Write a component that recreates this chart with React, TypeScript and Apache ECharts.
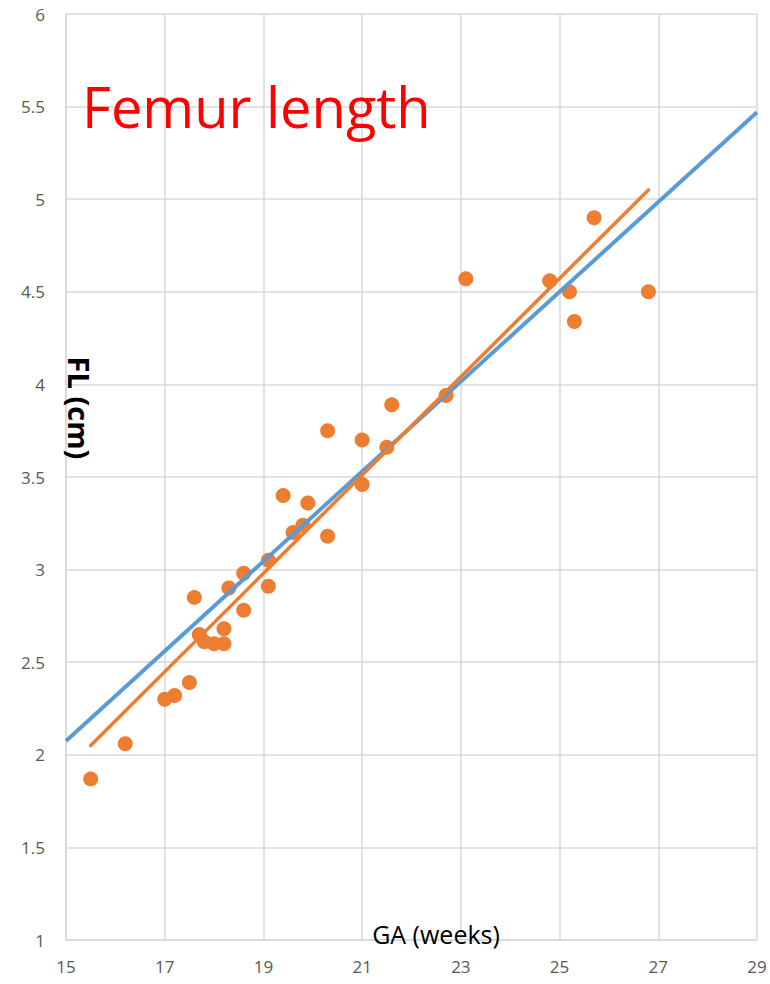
import React, { useEffect, useRef } from "react";
import * as echarts from "echarts";

const gaWeeks = [15.5, 16.2, 17.0, 17.2, 17.5, 17.6, 17.7, 17.8, 18.0, 18.2, 18.2, 18.3, 18.6, 18.6, 19.1, 19.1, 19.4, 19.6, 19.8, 19.9, 20.3, 20.3, 21.0, 21.0, 21.5, 21.6, 22.7, 23.1, 24.8, 25.2, 25.3, 25.7, 26.8];
const flCm = [1.87, 2.06, 2.30, 2.32, 2.39, 2.85, 2.65, 2.61, 2.60, 2.60, 2.68, 2.90, 2.98, 2.78, 3.05, 2.91, 3.40, 3.20, 3.24, 3.36, 3.75, 3.18, 3.70, 3.46, 3.66, 3.89, 3.94, 4.57, 4.56, 4.50, 4.34, 4.90, 4.50];
const blueLine = [[15, 2.075], [29, 5.47]];
const orangeLine = [[15.5, 2.05], [26.8, 5.05]];
const xTicks = [15, 17, 19, 21, 23, 25, 27, 29];
const yTicks = [1, 1.5, 2, 2.5, 3, 3.5, 4, 4.5, 5, 5.5, 6];

export default function App() {
  const ref = useRef<HTMLDivElement>(null);
  useEffect(() => {
    document.body.style.margin = "0";
    const chart = echarts.init(ref.current!, undefined, { renderer: "svg" });
    const font = "Open Sans";
    chart.setOption({
      animation: false,
      backgroundColor: "#ffffff",
      grid: { left: 66, right: 13, top: 14, bottom: 44, containLabel: false },
      xAxis: {
        type: "value",
        min: xTicks[0],
        max: xTicks[xTicks.length - 1],
        interval: 2,
        axisLine: { show: true, lineStyle: { color: "#d9d9d9", width: 1.5 } },
        axisTick: { show: false },
        splitLine: { show: true, lineStyle: { color: "#d9d9d9", width: 1.5 } },
        axisLabel: { color: "#595959", fontSize: 17, fontFamily: font, margin: 18 },
      },
      yAxis: {
        type: "value",
        min: yTicks[0],
        max: yTicks[yTicks.length - 1],
        interval: 0.5,
        axisLine: { show: true, lineStyle: { color: "#d9d9d9", width: 1.5 } },
        axisTick: { show: false },
        splitLine: { show: true, lineStyle: { color: "#d9d9d9", width: 1.5 } },
        axisLabel: { color: "#595959", fontSize: 17, fontFamily: font, margin: 21 },
      },
      series: [
        {
          type: "scatter",
          data: gaWeeks.map((x, i) => [x, flCm[i]]),
          symbolSize: 15,
          itemStyle: { color: "#ED7D31", opacity: 1 },
          z: 2,
        },
        {
          type: "line",
          data: blueLine,
          symbol: "none",
          lineStyle: { color: "#5B9BD5", width: 4 },
          z: 3,
        },
        {
          type: "line",
          data: orangeLine,
          symbol: "none",
          lineStyle: { color: "#ED7D31", width: 3.5, cap: "round" },
          z: 4,
        },
      ],
      graphic: [
        {
          type: "text",
          left: 82,
          top: 78,
          style: { text: "Femur length", fill: "#ff0000", font: `56px '${font}'` },
          z: 10,
        },
        {
          type: "text",
          x: 79,
          y: 408,
          rotation: -Math.PI / 2,
          style: {
            text: "FL (cm)",
            fill: "#000000",
            font: `bold 29px '${font}'`,
            align: "center",
            verticalAlign: "middle",
          },
          z: 10,
        },
        {
          type: "text",
          x: 436,
          y: 934,
          style: {
            text: "GA (weeks)",
            fill: "#000000",
            font: `25px '${font}'`,
            align: "center",
            verticalAlign: "middle",
          },
          z: 10,
        },
      ],
    });
    return () => chart.dispose();
  }, []);
  return <div ref={ref} style={{ width: 770, height: 984 }} />;
}
